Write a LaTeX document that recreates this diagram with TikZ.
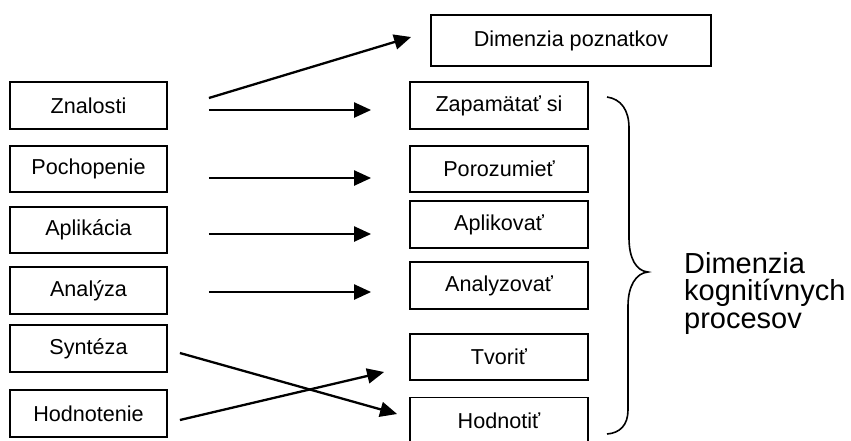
\documentclass[tikz,border=0pt]{standalone}
\usepackage{fontspec}
\setmainfont{Liberation Sans}
\usetikzlibrary{arrows.meta}
\begin{document}
\begin{tikzpicture}[x=1pt,y=-1pt,
  box/.style={draw, line width=1.8pt, inner sep=0pt, minimum height=47pt, font=\fontsize{21.6}{25}\selectfont},
  lbox/.style={box, minimum width=157pt},
  rbox/.style={box, minimum width=178pt},
  arr/.style={line width=2.3pt, -{Triangle[length=17pt,width=15pt]}},
  brace/.style={line width=1.6pt}
]
\useasboundingbox (0,0) rectangle (851,440);
\clip (0,0) rectangle (851,440);
% left column
\node[lbox] (zn) at (88.5,105.5) {Znalosti};
\node[lbox, minimum height=46pt] (po) at (88.5,169) {Pochopenie};
\node[lbox, minimum height=46pt] (ap) at (88.5,230) {Aplikácia};
\node[lbox] (an) at (88.5,290.5) {Analýza};
\node[lbox] (sy) at (88.5,348.5) {Syntéza};
\node[lbox] (ho) at (88.5,413.5) {Hodnotenie};
% right column
\node[box, minimum width=280pt, minimum height=51pt] (dp) at (571,40.5) {Dimenzia poznatkov};
\node[rbox] (za) at (499,105.5) {Zapamätať si};
\node[rbox, minimum height=46pt] (pr) at (499,169) {Porozumieť};
\node[rbox] (av) at (499,224.5) {Aplikovať};
\node[rbox] (az) at (499,285.5) {Analyzovať};
\node[rbox, minimum height=46pt] (tv) at (499,357) {Tvoriť};
\node[rbox] (hd) at (499,421) {Hodnotiť};
% arrows
\draw[arr] ([xshift=41pt,yshift=7.5pt]zn.east) -- ([xshift=-19pt,yshift=3.5pt]dp.west);
\draw[arr] ([xshift=41pt,yshift=-4.5pt]zn.east) -- ([xshift=-38pt,yshift=-4.5pt]za.west);
\draw[arr] ([xshift=41pt,yshift=-9pt]po.east) -- ([xshift=-38pt,yshift=-9pt]pr.west);
\draw[arr] ([xshift=41pt,yshift=-4pt]ap.east) -- ([xshift=-38pt,yshift=-9.5pt]av.west);
\draw[arr] ([xshift=41pt,yshift=-1.5pt]an.east) -- ([xshift=-38pt,yshift=-6.5pt]az.west);
\draw[arr] ([xshift=12pt,yshift=-4.5pt]sy.east) -- ([xshift=-12pt,yshift=7pt]hd.west);
\draw[arr] ([xshift=12pt,yshift=-6.5pt]ho.east) -- ([xshift=-25pt,yshift=-15pt]tv.west);
% brace
\coordinate (btop) at (607,97);
\coordinate (btip) at (648,272);
\coordinate (bbot) at (607,434);
\draw[brace] (btop) .. controls (621,99) and (629,110) .. (629,128) -- (629,238)
  .. controls (629,258) and (636,271) .. (btip)
  .. controls (636,273) and (628,286) .. (628,306) -- (628,410)
  .. controls (628,425) and (620,433) .. (bbot);
\node[anchor=base west, inner sep=0pt, align=left, font=\fontsize{29}{27.5}\selectfont] (lab) at (684,328) {Dimenzia\\kognitívnych\\procesov};
\end{tikzpicture}
\end{document}
